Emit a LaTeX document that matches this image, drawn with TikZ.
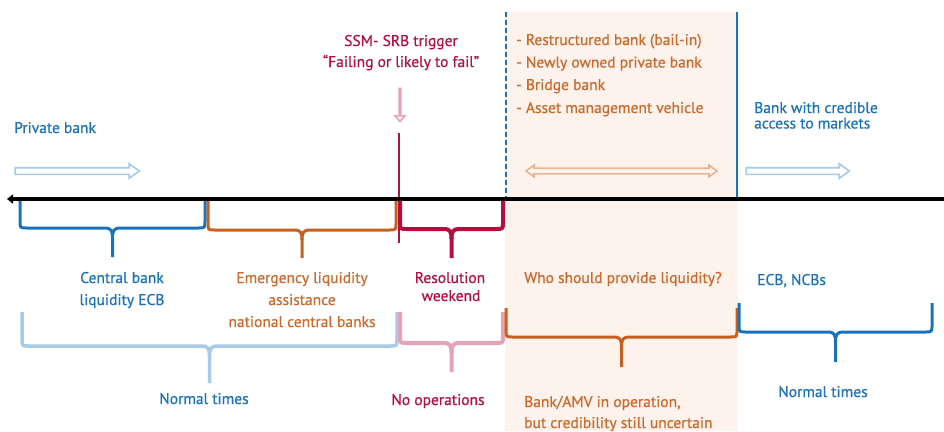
\documentclass[tikz,border=0pt]{standalone}
\usepackage{fontspec}
\setmainfont{PT Sans}[FakeBold=0.6]
\usetikzlibrary{shapes.arrows,arrows.meta}
\definecolor{cbBlue}{HTML}{1A73BA}
\definecolor{cbLight}{HTML}{A7CBE8}
\definecolor{cbOrange}{HTML}{C8611E}
\definecolor{cbOrTxt}{HTML}{CB6A2D}
\definecolor{cbRed}{HTML}{B3103F}
\definecolor{cbPink}{HTML}{E6A3B5}
\definecolor{cbPeach}{HTML}{FDF3EC}
\definecolor{cbOrLight}{HTML}{E8B592}
\newcommand\cbbrace[7]{% color, width, x1, x2, ytop, yh, ytip
  \pgfmathsetmacro\cbxm{(#3+#4)/2}
  \draw[#1, line width=#2, line join=round]
    (#3,#5) -- (#3,#6-7) .. controls (#3,#6) .. (#3+7,#6) -- (\cbxm-8,#6)
    .. controls (\cbxm-1,#6) and (\cbxm,#6+3) .. (\cbxm,#6+10) -- (\cbxm,#7);
  \draw[#1, line width=#2, line join=round]
    (#4,#5) -- (#4,#6-7) .. controls (#4,#6) .. (#4-7,#6) -- (\cbxm+8,#6)
    .. controls (\cbxm+1,#6) and (\cbxm,#6+3) .. (\cbxm,#6+10);
}
\tikzset{
  txt/.style={anchor=base, inner sep=0pt, font=\fontsize{15.5}{18}\selectfont},
  txtl/.style={txt, anchor=base west},
  harrow/.style={shape=single arrow, inner xsep=0pt, inner ysep=2.5pt,
    single arrow head extend=4pt, single arrow tip angle=72, line width=1.6pt},
  darrow/.style={shape=double arrow, inner xsep=0pt, inner ysep=2pt,
    double arrow head extend=3pt, double arrow tip angle=72, line width=1.6pt}
}
\begin{document}
\begin{tikzpicture}[x=1pt,y=-1pt]
\useasboundingbox (0,0) rectangle (944,431);
% shaded resolution period
\fill[cbPeach] (505,12) rectangle (738,431);
% vertical markers
\draw[cbBlue, line width=2.5pt, dash pattern=on 5pt off 3pt] (506,12) -- (506,197);
\draw[cbBlue, line width=2.5pt] (737,12) -- (737,197);
\draw[cbRed, line width=2.5pt] (399,133) -- (399,243);
% hollow arrows
\node[harrow, draw=cbLight, minimum height=124pt] (pbarrow) at (75,171) {};
\node[harrow, draw=cbLight, minimum height=103pt] (mkarrow) at (795.5,171) {};
\node[harrow, draw=cbPink, minimum height=33pt, inner ysep=3pt, single arrow tip angle=82, shape border rotate=270] (trarrow) at (400,104.5) {};
\node[darrow, draw=cbOrLight, minimum height=191pt] (rsarrow) at (621.5,171) {};
% braces upper row
\cbbrace{cbBlue}{3pt}{20}{205}{200}{228}{257}
\cbbrace{cbOrange}{3pt}{208}{396}{200}{230}{258}
\cbbrace{cbRed}{4pt}{400}{503}{200}{229}{258}
% braces lower row
\cbbrace{cbLight}{3.5pt}{22}{397}{312}{346}{383}
\cbbrace{cbPink}{4pt}{400}{503}{312}{343}{372}
\cbbrace{cbOrange}{3pt}{506}{737}{308}{337}{367}
\cbbrace{cbBlue}{3pt}{739}{932}{303}{332}{362}
% timeline
\draw[line width=4.5pt, -{Triangle[length=6pt,width=9pt]}] (944,199) -- (7,199);
% texts
\node[txt, text=cbRed] (trig1) at (401,46) {SSM- SRB trigger};
\node[txt, text=cbRed] (trig2) at (401,67) {“Failing or likely to fail”};
\node[txtl, text=cbOrTxt] (opt1) at (516,45) {- Restructured bank (bail-in)};
\node[txtl, text=cbOrTxt] (opt2) at (516,67.5) {- Newly owned private bank};
\node[txtl, text=cbOrTxt] (opt3) at (516,90) {- Bridge bank};
\node[txtl, text=cbOrTxt] (opt4) at (516,113) {- Asset management vehicle};
\node[txtl, text=cbBlue] (cred1) at (754,113) {Bank with credible};
\node[txtl, text=cbBlue] (cred2) at (754,128.5) {access to markets};
\node[txtl, text=cbBlue] (priv) at (14,133) {Private bank};
\node[txt, text=cbBlue] (cb1) at (122,283) {Central bank};
\node[txt, text=cbBlue] (cb2) at (122,305) {liquidity ECB};
\node[txt, text=cbOrTxt] (ela1) at (302,283) {Emergency liquidity};
\node[txt, text=cbOrTxt] (ela2) at (302,305) {assistance};
\node[txt, text=cbOrTxt] (ela3) at (302,327) {national central banks};
\node[txt, text=cbRed] (res1) at (450,283) {Resolution};
\node[txt, text=cbRed] (res2) at (451,301) {weekend};
\node[txt, text=cbOrTxt] (who) at (623,283) {Who should provide liquidity?};
\node[txtl, text=cbBlue] (ecb) at (757,285) {ECB, NCBs};
\node[txt, text=cbBlue] (nt1) at (204,404) {Normal times};
\node[txt, text=cbRed] (noop) at (438,405) {No operations};
\node[txtl, text=cbOrTxt] (amv1) at (524,407) {Bank/AMV in operation,};
\node[txtl, text=cbOrTxt] (amv2) at (524,428) {but credibility still uncertain};
\node[txt, text=cbBlue] (nt2) at (823,397) {Normal times};
\end{tikzpicture}
\end{document}
